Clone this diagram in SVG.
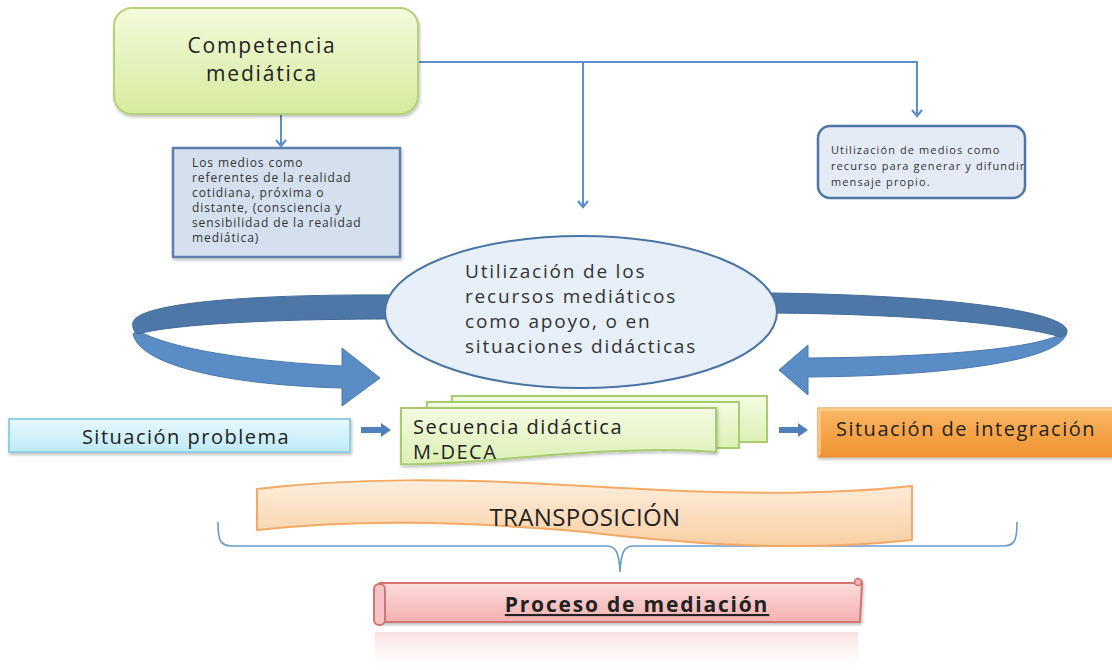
<svg xmlns="http://www.w3.org/2000/svg" width="1112" height="670" viewBox="0 0 1112 670">
<defs>
<linearGradient id="gGreen" x1="0" y1="0" x2="0" y2="1"><stop offset="0" stop-color="#f3fadb"/><stop offset="1" stop-color="#d6eb9e"/></linearGradient>
<linearGradient id="gSeq" x1="0" y1="0" x2="0" y2="1"><stop offset="0" stop-color="#f4fbe2"/><stop offset="1" stop-color="#dcefb4"/></linearGradient>
<linearGradient id="gCyan" x1="0" y1="0" x2="0" y2="1"><stop offset="0" stop-color="#e6f8fd"/><stop offset="1" stop-color="#bfeaf7"/></linearGradient>
<linearGradient id="gOrange" x1="0" y1="0" x2="0" y2="1"><stop offset="0" stop-color="#fbb866"/><stop offset="1" stop-color="#f0922f"/></linearGradient>
<linearGradient id="gBanner" x1="0" y1="0" x2="0" y2="1"><stop offset="0" stop-color="#fdeedd"/><stop offset="1" stop-color="#f9cfa4"/></linearGradient>
<linearGradient id="gPink" x1="0" y1="0" x2="0" y2="1"><stop offset="0" stop-color="#fde0e0"/><stop offset="1" stop-color="#f3b0b0"/></linearGradient>
<linearGradient id="gRefl" x1="0" y1="0" x2="0" y2="1"><stop offset="0" stop-color="#f3b9b9" stop-opacity="0.45"/><stop offset="1" stop-color="#fde0e0" stop-opacity="0"/></linearGradient>
<marker id="chev" viewBox="0 0 10 12" refX="8" refY="6" markerWidth="10" markerHeight="12" markerUnits="userSpaceOnUse" orient="auto">
<path d="M2,1 L8,6 L2,11" fill="none" stroke="#5b8fc7" stroke-width="2.2"/>
</marker>
<clipPath id="clipR"><rect x="818" y="126" width="207" height="72" rx="12"/></clipPath>
<filter id="sh" x="-5%" y="-20%" width="110%" height="150%"><feDropShadow dx="1" dy="2" stdDeviation="1.5" flood-color="#000" flood-opacity="0.25"/></filter>
</defs>
<style>
text{font-family:"Open Sans","DejaVu Sans",sans-serif;fill:#222}
.conn{fill:none;stroke:#5b8fc7;stroke-width:2}
.small{font-size:12px;letter-spacing:0.9px;fill:#333}
.tiny{font-size:11px;letter-spacing:1.1px;fill:#333}
.ell{font-size:19px;letter-spacing:1.8px;fill:#333}
.mid{font-size:20px;letter-spacing:1.5px}
.blockarrow{fill:#5080bc}
</style>
<rect width="1112" height="670" fill="#ffffff"/>

<g id="connectors">
<line class="conn" x1="281" y1="115" x2="281" y2="146" marker-end="url(#chev)"/>
<polyline class="conn" points="418,62 917,62 917,116" marker-end="url(#chev)"/>
<line class="conn" x1="583" y1="62" x2="583" y2="207" marker-end="url(#chev)"/>
<path class="blockarrow" d="M361,427 L381,427 L381,423 L391,430 L381,437 L381,433 L361,433 Z"/>
<path class="blockarrow" d="M779,427 L798,427 L798,423 L808,430 L798,437 L798,433 L779,433 Z"/>
<path d="M218,522 C218,540 220,546 232,546 L606,546 C616,546 619,552 620,572 C621,552 624,546 634,546 L1003,546 C1015,546 1017,540 1017,522" fill="none" stroke="#6a9bd0" stroke-width="1.6"/>
</g>

<g id="loop-left">
<path d="M137,330 C170,350 260,362 342,366 L342,348 L380,378 L342,406 L342,388 C230,385 140,366 133,334 Z" fill="#5a8dc6" stroke="#4a78ab" stroke-width="1"/>
<path d="M395,295 C260,294 140,302 133,322 C132,328 134,332 138,334 C170,325 260,319 395,319 Z" fill="#4c77a6" stroke="#426c99" stroke-width="1"/>
</g>
<g id="loop-right">
<path d="M1062,334 C1030,350 930,357 808,358 L808,345 L779,370 L808,395 L808,377 C940,376 1062,362 1067,332 Z" fill="#5a8dc6" stroke="#4a78ab" stroke-width="1"/>
<path d="M770,293 C940,295 1060,310 1067,330 C1067,334 1065,336 1061,337 C1020,325 920,314 770,313 Z" fill="#4c77a6" stroke="#426c99" stroke-width="1"/>
</g>

<g id="competencia">
<rect x="114" y="8" width="304" height="106" rx="18" fill="url(#gGreen)" stroke="#b3d27a" stroke-width="2" filter="url(#sh)"/>
<text x="262" y="53" text-anchor="middle" font-size="21" letter-spacing="1.8">Competencia</text>
<text x="262" y="81" text-anchor="middle" font-size="21" letter-spacing="1.8">mediática</text>
</g>

<g id="medios-referentes">
<rect x="173" y="148" width="227" height="109" fill="#d4e0ee" stroke="#5c7fab" stroke-width="2.5" filter="url(#sh)"/>
<text class="small" x="192" y="167">Los medios como</text>
<text class="small" x="192" y="182">referentes de la realidad</text>
<text class="small" x="192" y="197">cotidiana, próxima o</text>
<text class="small" x="192" y="212">distante, (consciencia y</text>
<text class="small" x="192" y="227">sensibilidad de la realidad</text>
<text class="small" x="192" y="242">mediática)</text>
</g>

<g id="medios-recurso">
<rect x="818" y="126" width="207" height="72" rx="12" fill="#e4ebf5" stroke="#4d76a7" stroke-width="2.5"/>
<g clip-path="url(#clipR)">
<text class="tiny" x="831" y="154">Utilización de medios como</text>
<text class="tiny" x="831" y="170">recurso para generar y difundir</text>
<text class="tiny" x="831" y="186">mensaje propio.</text>
</g>
</g>

<g id="recursos-mediaticos">
<ellipse cx="581" cy="312" rx="196" ry="76" fill="#e7eff9" stroke="#4a74a3" stroke-width="2"/>
<text class="ell" x="465" y="278">Utilización de los</text>
<text class="ell" x="465" y="303">recursos mediáticos</text>
<text class="ell" x="465" y="328">como apoyo, o en</text>
<text class="ell" x="465" y="353">situaciones didácticas</text>
</g>

<g id="situacion-problema">
<rect x="9" y="419" width="341" height="33" fill="url(#gCyan)" stroke="#8fd0e3" stroke-width="2" filter="url(#sh)"/>
<text class="mid" x="186" y="444" text-anchor="middle">Situación problema</text>
</g>

<g id="secuencia">
<rect x="452" y="396" width="315" height="46" fill="url(#gSeq)" stroke="#a9cb70" stroke-width="2"/>
<rect x="427" y="402" width="312" height="46" fill="url(#gSeq)" stroke="#a9cb70" stroke-width="2"/>
<path d="M401,408 L716,408 L716,452 C650,446 560,454 480,461 C450,463 420,465 401,464 Z" fill="url(#gSeq)" stroke="#a9cb70" stroke-width="2" filter="url(#sh)"/>
<text class="mid" x="413" y="434">Secuencia didáctica</text>
<text class="mid" x="413" y="459">M-DECA</text>
</g>

<g id="situacion-integracion">
<rect x="818" y="408" width="296" height="49" fill="url(#gOrange)" stroke="#e48a2a" stroke-width="1" filter="url(#sh)"/>
<path d="M818,408 L1112,408 L1112,411 L821,411 L821,454 L818,457 Z" fill="#fcd09a" opacity="0.7"/>
<text class="mid" x="966" y="436" text-anchor="middle">Situación de integración</text>
</g>

<g id="transposicion">
<path d="M257,489 C350,478 450,478 585,486 C720,494 820,496 912,486 L912,540 C820,550 720,548 585,532 C450,520 350,520 257,530 Z" fill="url(#gBanner)" stroke="#f3aa64" stroke-width="2"/>
<text x="585" y="526" text-anchor="middle" font-size="24" letter-spacing="0.4">TRANSPOSICIÓN</text>
</g>

<g id="proceso-mediacion">
<rect x="375" y="632" width="483" height="36" fill="url(#gRefl)"/>
<path d="M380,583 L856,583 C858,579 862,579 862,583 L860,622 L380,622 Z" fill="url(#gPink)" stroke="#d27474" stroke-width="2" filter="url(#sh)"/>
<rect x="374" y="584" width="11" height="41" rx="5" fill="#f6c4c4" stroke="#d27474" stroke-width="2"/>
<circle cx="858" cy="582" r="3.5" fill="#f3b0b0" stroke="#d27474" stroke-width="1.5"/>
<text x="637" y="612" text-anchor="middle" font-size="21" font-weight="bold" letter-spacing="1.8" text-decoration="underline">Proceso de mediación</text>
</g>
</svg>
